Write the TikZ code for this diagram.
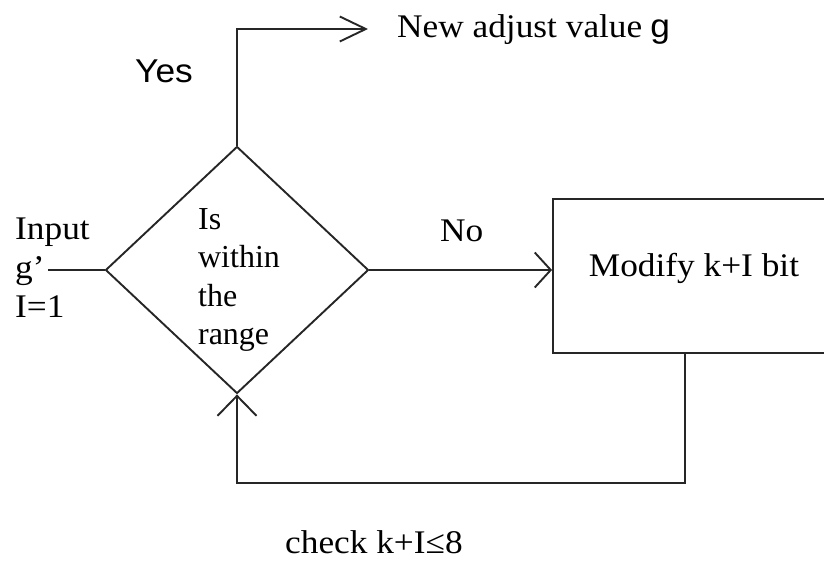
\documentclass[tikz,border=0pt]{standalone}
\usepackage{fontspec}
\setmainfont{Liberation Serif}[FakeStretch=1.07]
\newfontfamily\plainserif{Liberation Serif}
\newfontfamily\sansfont{Liberation Sans}[FakeStretch=1.07]
\usetikzlibrary{arrows.meta,shapes.geometric}

\begin{document}
\begin{tikzpicture}[x=1pt,y=-1pt,
  line/.style={draw=black!85, line width=1.9pt},
  txt/.style={font=\fontsize{33}{39}\selectfont, inner sep=0pt, anchor=base west},
  dtxt/.style={font=\plainserif\fontsize{32}{38.5}\selectfont, inner sep=0pt},
  stxt/.style={font=\sansfont\fontsize{33}{39}\selectfont, inner sep=0pt, anchor=base west},
  decision/.style={diamond, line, inner sep=0pt, minimum width=263pt, minimum height=247pt},
  process/.style={rectangle, line, inner sep=0pt, minimum width=347pt, minimum height=154pt},
  barbA/.style={-{Straight Barb[length=26pt,width=25pt]}},
  barbB/.style={-{Straight Barb[length=16pt,width=35pt]}},
  barbC/.style={-{Straight Barb[length=20pt,width=39pt]}}]
\useasboundingbox (0,0) rectangle (824,561);

% decision and process blocks
\node[decision] (d) at (237,270) {};
\node[dtxt, align=left, anchor=center] (q) at (239,280) {Is\\within\\the\\range};
\node[process] (box) at (726.5,276) {};
\node[txt, anchor=center] (mod) at (694,268) {Modify k+I bit};

% input
\node[txt, align=left, anchor=west] (inp) at (15,268) {Input\\g’\\I=1};
\coordinate (in) at (48,270);
\draw[line] (in) -- (d.west);

% yes branch
\coordinate (ytip) at (368,29);
\draw[line, barbA] (d.north) |- (ytip);
\node[stxt] (yes) at (135,83) {Yes};
\node[txt] (out) at (397,38) {New adjust value\hspace{8pt}{\sansfont g}};

% no branch
\draw[line, barbB] (d.east) -- (d.east -| box.west);
\node[txt] (no) at (440,242) {No};

% feedback loop
\coordinate (fb) at (685,483);
\draw[line, barbC] (box.south -| fb) -- (fb) -| (d.south);
\node[txt] (chk) at (285,553) {check k+I≤8};
\end{tikzpicture}
\end{document}
